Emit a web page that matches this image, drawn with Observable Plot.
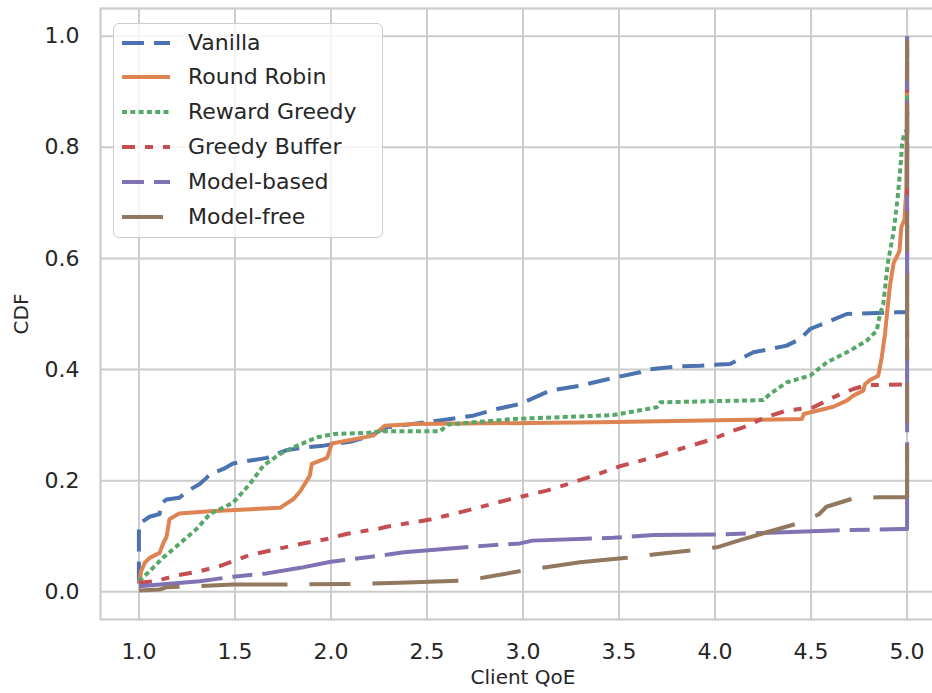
<!DOCTYPE html>
<html>
<head>
<meta charset="utf-8">
<script src="https://cdn.jsdelivr.net/npm/d3@7"></script>
<script src="https://cdn.jsdelivr.net/npm/@observablehq/plot@0.6"></script>
<style>
  html, body { margin: 0; padding: 0; background: #fff; overflow: hidden; }
  #chart { position: relative; width: 932px; height: 693px; font-family: "DejaVu Sans", sans-serif; color: #262626; }
  #chart svg { display: block; }
  #legend {
    position: absolute; left: 113px; top: 23px; width: 270px; height: 215px;
    box-sizing: border-box; background: rgba(255,255,255,0.8);
    border: 1.6px solid #cccccc; border-radius: 6px;
  }
  #legend .row { position: absolute; left: 0; height: 34px; display: flex; align-items: center; }
  #legend .row svg { margin-left: 7px; }
  #legend .row span { margin-left: 18px; font-size: 22px; line-height: 34px; white-space: nowrap; }
</style>
</head>
<body>
<div id="chart"></div>
<script>
// Empirical CDF of client QoE for each scheduling policy: [QoE, cumulative fraction]
const vanilla = [[1.0,0.015],[1.0,0.122],[1.056,0.135],[1.108,0.14],[1.113,0.158],[1.143,0.166],[1.21,0.169],[1.256,0.182],[1.317,0.194],[1.352,0.205],[1.37,0.212],[1.44,0.221],[1.49,0.231],[1.666,0.241],[1.77,0.255],[1.875,0.26],[1.96,0.263],[2.1,0.27],[2.2,0.28],[2.29,0.296],[2.585,0.309],[2.74,0.317],[2.863,0.329],[2.984,0.338],[3.14,0.362],[3.297,0.371],[3.47,0.385],[3.609,0.395],[3.644,0.4],[3.818,0.406],[3.922,0.407],[4.078,0.41],[4.2,0.431],[4.373,0.443],[4.443,0.455],[4.495,0.473],[4.582,0.485],[4.686,0.5],[4.946,0.503],[5.0,0.503],[5.0,1.0]];
const roundRobin = [[1.0,0.016],[1.012,0.037],[1.03,0.052],[1.056,0.061],[1.108,0.07],[1.125,0.086],[1.143,0.098],[1.16,0.131],[1.21,0.141],[1.37,0.145],[1.735,0.151],[1.805,0.167],[1.84,0.181],[1.89,0.209],[1.9,0.23],[1.98,0.241],[2.005,0.267],[2.22,0.281],[2.28,0.299],[2.43,0.302],[3.401,0.305],[4.452,0.311],[4.462,0.32],[4.616,0.333],[4.686,0.344],[4.72,0.353],[4.772,0.362],[4.781,0.374],[4.807,0.381],[4.85,0.389],[4.868,0.422],[4.885,0.464],[4.897,0.506],[4.91,0.549],[4.93,0.592],[4.96,0.613],[4.97,0.656],[4.986,0.67],[4.996,0.724],[5.0,1.0]];
const rewardGreedy = [[1.0,0.019],[1.056,0.037],[1.125,0.061],[1.21,0.086],[1.3,0.113],[1.37,0.14],[1.49,0.16],[1.578,0.194],[1.648,0.227],[1.735,0.248],[1.805,0.26],[1.927,0.278],[2.014,0.284],[2.19,0.286],[2.26,0.289],[2.568,0.289],[2.61,0.301],[2.95,0.311],[3.47,0.318],[3.696,0.332],[3.714,0.341],[4.252,0.345],[4.286,0.356],[4.373,0.377],[4.495,0.389],[4.582,0.413],[4.703,0.434],[4.79,0.452],[4.842,0.47],[4.859,0.5],[4.876,0.518],[4.9,0.592],[4.93,0.649],[4.95,0.706],[4.965,0.763],[4.974,0.806],[4.986,0.827],[5.0,0.83],[5.0,1.0]];
const greedyBuffer = [[1.0,0.016],[1.09,0.019],[1.178,0.028],[1.317,0.037],[1.42,0.046],[1.578,0.066],[1.735,0.078],[1.84,0.086],[1.98,0.095],[2.08,0.104],[2.255,0.114],[2.29,0.117],[2.516,0.13],[2.707,0.146],[2.828,0.157],[2.915,0.165],[3.123,0.182],[3.245,0.195],[3.384,0.211],[3.505,0.226],[3.679,0.242],[3.818,0.257],[3.99,0.275],[4.095,0.29],[4.147,0.296],[4.27,0.315],[4.373,0.326],[4.512,0.332],[4.616,0.35],[4.72,0.365],[4.79,0.372],[4.98,0.373],[5.0,0.373],[5.0,1.0]];
const modelBased = [[1.0,0.01],[1.143,0.014],[1.317,0.019],[1.49,0.027],[1.666,0.033],[1.84,0.043],[2.0,0.054],[2.19,0.062],[2.38,0.071],[2.7,0.08],[2.81,0.083],[2.984,0.087],[3.05,0.092],[3.47,0.097],[3.68,0.102],[4.026,0.103],[4.58,0.11],[4.98,0.113],[5.0,0.113],[5.0,1.0]];
const modelFree = [[1.0,0.002],[1.108,0.004],[1.143,0.008],[1.317,0.01],[1.49,0.013],[1.77,0.013],[2.1,0.014],[2.36,0.016],[2.672,0.02],[2.79,0.025],[3.0,0.038],[3.12,0.044],[3.297,0.053],[3.54,0.061],[3.679,0.067],[3.887,0.075],[4.01,0.08],[4.13,0.093],[4.27,0.107],[4.43,0.123],[4.54,0.139],[4.58,0.153],[4.73,0.169],[4.85,0.17],[5.0,0.17],[5.0,1.0]];

const seriesNames = ["Vanilla", "Round Robin", "Reward Greedy", "Greedy Buffer", "Model-based", "Model-free"];
const seriesData = [vanilla, roundRobin, rewardGreedy, greedyBuffer, modelBased, modelFree];

const xTicks = [1.0, 1.5, 2.0, 2.5, 3.0, 3.5, 4.0, 4.5, 5.0];
const yTicks = [0.0, 0.2, 0.4, 0.6, 0.8, 1.0];

// seaborn "deep" palette and per-series line styles
const colors = ["#4c72b0", "#dd8452", "#55a868", "#c44e52", "#8172b3", "#937860"];
const dashes = ["22,10", null, "5,3.3", "13,10,8,10", "84,10,20,10", "41,22,86,22"];
const legendDashOffset = [0, 0, 0, 0, 62, 0];

const gridColor = "#cccccc";
const fmt = d3.format(".1f");

const lineMarks = seriesData.map((data, i) =>
  Plot.line(data, {
    x: d => d[0], y: d => d[1],
    stroke: colors[i], strokeWidth: 4,
    strokeDasharray: dashes[i] ?? undefined,
    strokeLinecap: "butt", strokeLinejoin: "round"
  })
);

const plot = Plot.plot({
  width: 932, height: 693,
  marginTop: 8, marginBottom: 74, marginLeft: 100, marginRight: -13,
  style: { fontFamily: "DejaVu Sans, sans-serif", fontSize: "22px", color: "#262626", background: "white" },
  x: { domain: [0.8, 5.2] },
  y: { domain: [-0.05, 1.05] },
  marks: [
    Plot.gridX(xTicks, { stroke: gridColor, strokeOpacity: 1, strokeWidth: 2 }),
    Plot.gridY(yTicks, { stroke: gridColor, strokeOpacity: 1, strokeWidth: 2 }),
    Plot.frame({ stroke: gridColor, strokeWidth: 2.2 }),
    Plot.axisX(xTicks, { tickSize: 0, tickPadding: 24, tickFormat: fmt, label: null, fill: "#262626", fontSize: 22 }),
    Plot.axisY(yTicks, { tickSize: 0, tickPadding: 21, tickFormat: fmt, label: null, fill: "#262626", fontSize: 22 }),
    Plot.axisX([], { tickSize: 0, label: "Client QoE", labelAnchor: "center", labelArrow: "none", labelOffset: 64, fill: "#262626", fontSize: 20 }),
    Plot.axisY([], { tickSize: 0, label: "CDF", labelAnchor: "center", labelArrow: "none", labelOffset: 87, fill: "#262626", fontSize: 20 }),
    ...lineMarks
  ]
});

const chart = document.getElementById("chart");
chart.appendChild(plot);

// Legend box in the upper-left corner of the axes
const legend = d3.select(chart).append("div").attr("id", "legend");
seriesNames.forEach((name, i) => {
  const row = legend.append("div").attr("class", "row").style("top", (1.5 + i * 34.8) + "px");
  const sw = row.append("svg").attr("width", 49).attr("height", 10);
  const ln = sw.append("line").attr("x1", 1).attr("x2", 49).attr("y1", 5).attr("y2", 5)
    .attr("stroke", colors[i]).attr("stroke-width", 4).attr("stroke-linecap", "butt");
  if (dashes[i]) ln.attr("stroke-dasharray", dashes[i]).attr("stroke-dashoffset", legendDashOffset[i]);
  row.append("span").text(name);
});
</script>
</body>
</html>
